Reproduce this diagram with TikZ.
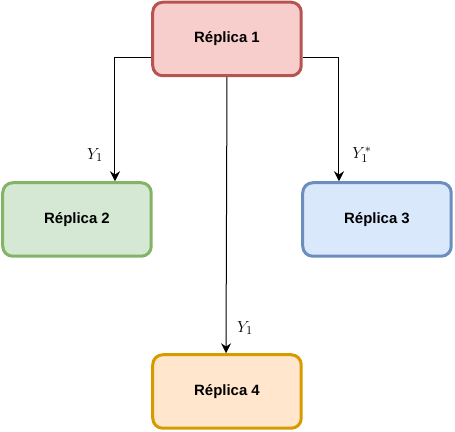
\documentclass[tikz,border=0pt]{standalone}
\usepackage{fontspec}
\setsansfont{Liberation Sans}
\usetikzlibrary{arrows.meta}
\definecolor{redF}{HTML}{F8CECC}\definecolor{redS}{HTML}{B85450}
\definecolor{grnF}{HTML}{D5E8D4}\definecolor{grnS}{HTML}{82B366}
\definecolor{bluF}{HTML}{DAE8FC}\definecolor{bluS}{HTML}{6C8EBF}
\definecolor{orgF}{HTML}{FFE6CC}\definecolor{orgS}{HTML}{D79B00}
\begin{document}
\begin{tikzpicture}[x=0.75pt,y=-0.75pt,
  box/.style={rounded corners=7.5pt,line width=2.25pt,minimum width=148.5*0.75pt,minimum height=73.5*0.75pt,
    inner sep=0pt,font=\sffamily\bfseries\fontsize{11.2}{13}\selectfont},
  conn/.style={line width=0.75pt,-{Stealth[length=7.5pt,width=7.5pt,inset=2.5pt]}},
  lab/.style={font=\fontsize{12.5}{14}\selectfont}]
\useasboundingbox (0,0) rectangle (455,432);
\node[box,fill=redF,draw=redS] (r1) at (227,39) {Réplica 1};
\node[box,fill=grnF,draw=grnS] (r2) at (77,219.5) {Réplica 2};
\node[box,fill=bluF,draw=bluS] (r3) at (377,219.5) {Réplica 3};
\node[box,fill=orgF,draw=orgS] (r4) at (227,391.5) {Réplica 4};
\coordinate (a1) at (r1.west |- 0,58);
\coordinate (a2) at (r1.east |- 0,58);
\draw[conn] (a1) -| (115,0 |- r2.north);
\draw[conn] (a2) -| (339,0 |- r3.north);
\draw[conn] (r1.south) -- (r4.north -| 226,0);
\node[lab] (l1) at (95,155) {$Y_1$};
\node[lab] (l2) at (362,155) {$Y_1^*$};
\node[lab] (l3) at (245,328) {$Y_1$};
\end{tikzpicture}
\end{document}
